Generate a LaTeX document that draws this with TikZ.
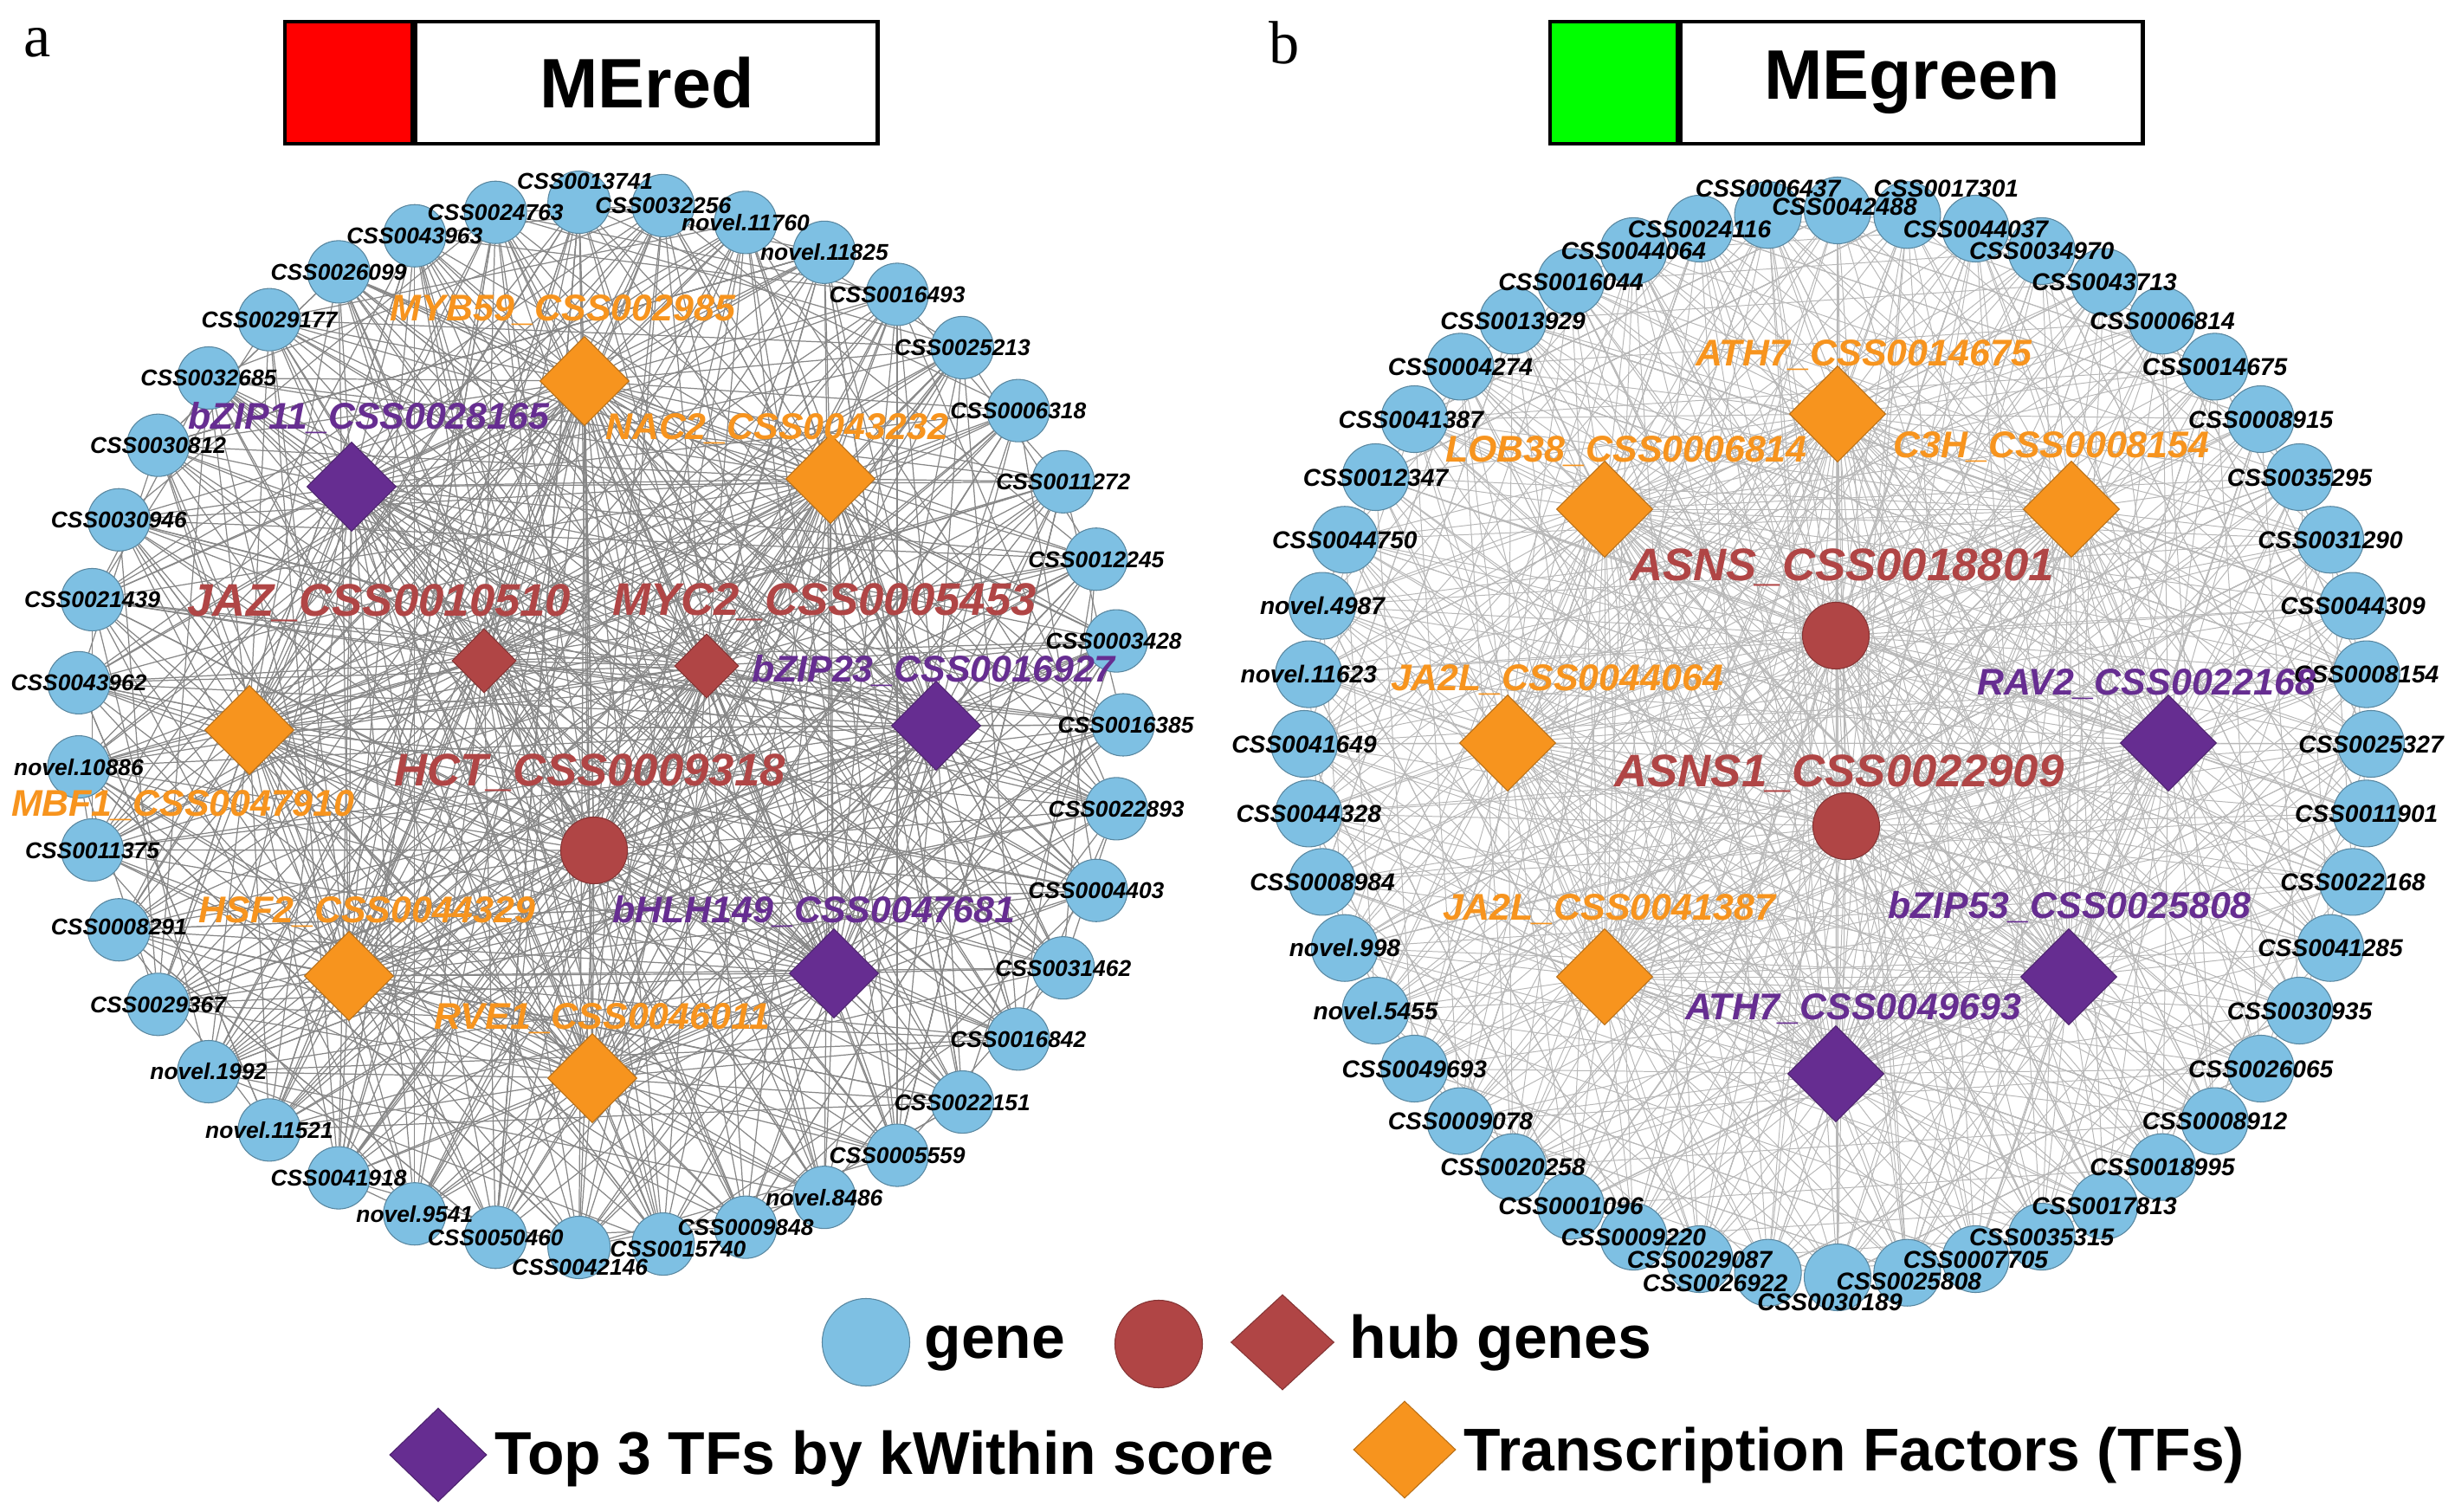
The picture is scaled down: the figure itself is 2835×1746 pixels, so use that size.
\documentclass[tikz,border=0pt]{standalone}
\usepackage{fontspec}
\setmainfont{Liberation Sans}
\newfontfamily\panelfont{Liberation Serif}
\usetikzlibrary{shapes.geometric,backgrounds}

\definecolor{geneblue}{RGB}{126,192,227}
\definecolor{hubred}{RGB}{176,69,69}
\definecolor{tfpurple}{RGB}{102,45,145}
\definecolor{tforange}{RGB}{247,148,30}

\tikzset{
  gene/.style={circle, fill=geneblue, draw=geneblue!70!black, line width=0.3pt, inner sep=0pt, minimum size=0.72cm},
  geneR/.style={gene, minimum size=0.77cm},
  genelab/.style={font=\bfseries\itshape\fontsize{7.5}{9}\selectfont, inner sep=0pt, text height=5.4pt, text depth=0pt},
  genelabR/.style={font=\bfseries\itshape\fontsize{8}{10}\selectfont, inner sep=0pt, text height=5.7pt, text depth=0pt},
  tf/.style={diamond, aspect=1, inner sep=0pt, minimum width=1.03cm, minimum height=1.03cm, line width=0.3pt},
  bigtf/.style={minimum width=1.11cm, minimum height=1.11cm},
  tforg/.style={tf, fill=tforange, draw=tforange!75!black},
  tfpur/.style={tf, fill=tfpurple, draw=tfpurple!75!black},
  hubdia/.style={tf, fill=hubred, draw=hubred!75!black, minimum width=0.74cm, minimum height=0.74cm},
  hubdot/.style={circle, fill=hubred, draw=hubred!75!black, line width=0.3pt, inner sep=0pt, minimum size=0.77cm},
  tflab/.style={font=\bfseries\itshape\fontsize{12.2}{14}\selectfont, inner sep=0pt, text height=8.7pt, text depth=0pt},
  hublab/.style={font=\bfseries\itshape\fontsize{15}{18}\selectfont, inner sep=0pt, text height=10.7pt, text depth=0pt, text=hubred},
  leftedge/.style={draw=black!47, line width=0.35pt},
  rightedge/.style={draw=black!28, line width=0.28pt},
  swatch/.style={draw=black, line width=1.2pt, minimum width=1.47cm, minimum height=1.41cm, inner sep=0pt},
  titlebox/.style={draw=black, line width=1.2pt, fill=white, minimum width=5.33cm, minimum height=1.41cm, inner sep=0pt, font=\bfseries\fontsize{23}{27}\selectfont},
  panel/.style={font=\panelfont\fontsize{20}{24}\selectfont, inner sep=0pt},
  legtext/.style={font=\bfseries\fontsize{19.8}{23}\selectfont, inner sep=0pt}
}

\begin{document}
\begin{tikzpicture}[x=0.01cm, y=-0.01cm]
  \useasboundingbox (0,0) rectangle (2835,1746);

  % titles
  \node[panel] (panela) at (43,49) {a};
  \node[panel] (panelb) at (1483,49) {b};
  \node[swatch, fill=red] (redswatch) at (402.5,95.5) {};
  \node[titlebox, anchor=west] (redtitle) at (redswatch.east) {MEred};
  \node[swatch, fill=green] (greenswatch) at (1863.5,95.5) {};
  \node[titlebox, anchor=west] (greentitle) at (greenswatch.east) {MEgreen};

  % MEred network
  \begin{scope}[every node/.style=gene]
    \foreach \k in {1,...,39}
      \node (L\k) at ({693+604*cos((11-\k)*360/39)}, {837-604*sin((11-\k)*360/39)}) {};
  \end{scope}
  \node[tfpur] (bzipA) at (406,562) {};
  \node[tforg] (mybA) at (675,440) {};
  \node[tforg] (nacA) at (959,553) {};
  \node[hubdia] (jaz) at (559,763) {};
  \node[hubdia] (myc) at (816,769) {};
  \node[tfpur] (bzipB) at (1081,838) {};
  \node[tforg] (mbf) at (288,843) {};
  \node[hubdot] (hct) at (686,982) {};
  \node[tfpur] (bhlh) at (963,1124) {};
  \node[tforg] (hsf) at (403,1127) {};
  \node[tforg] (rve) at (684,1245) {};

  % MEgreen network
  \begin{scope}[every node/.style=geneR]
    \foreach \m in {1,...,48}
      \node (R\m) at ({2122+616*cos(90-(\m-1)*7.5)}, {859-616*sin(90-(\m-1)*7.5)}) {};
  \end{scope}
  \node[tforg, bigtf] (athA) at (2122,478) {};
  \node[tforg, bigtf] (lob) at (1853,588) {};
  \node[tforg, bigtf] (cth) at (2392,588) {};
  \node[hubdot] (asns) at (2120,734) {};
  \node[hubdot] (asnsB) at (2132,954) {};
  \node[tforg, bigtf] (jaA) at (1741,858) {};
  \node[tfpur, bigtf] (rav) at (2504,858) {};
  \node[tforg, bigtf] (jaB) at (1853,1128) {};
  \node[tfpur, bigtf] (athB) at (2120,1240) {};
  \node[tfpur, bigtf] (bzipC) at (2389,1128) {};

  \begin{pgfonlayer}{background}
    \fill[white] (0,0) rectangle (2835,1746);
    \foreach \h in {bzipA,mybA,nacA,jaz,myc,bzipB,mbf,hct,bhlh,hsf,rve}
      \foreach \k in {1,...,39}
        \path (\h) edge[leftedge] (L\k);
    \foreach \k in {1,...,39}
      \foreach \s in {4,10,16,23} {
        \pgfmathtruncatemacro\j{mod(\k*\s+5*\s+3,39)+1}
        \ifnum\j=\k\else \path (L\k) edge[leftedge] (L\j); \fi
      }
    \foreach \a [count=\i] in {bzipA,mybA,nacA,jaz,myc,bzipB,mbf,hct,bhlh,hsf,rve}
      \foreach \b [count=\j] in {bzipA,mybA,nacA,jaz,myc,bzipB,mbf,hct,bhlh,hsf,rve} {
        \ifnum\j>\i \path (\a) edge[leftedge] (\b); \fi
      }
    \foreach \h in {athA,lob,cth,asns,asnsB,jaA,rav,jaB,athB,bzipC}
      \foreach \m in {1,...,48}
        \path (\h) edge[rightedge] (R\m);
    \foreach \m in {1,...,48}
      \foreach \s in {5,11,17,29,35} {
        \pgfmathtruncatemacro\n{mod(\m*\s+7*\s+1,48)+1}
        \ifnum\n=\m\else \path (R\m) edge[rightedge] (R\n); \fi
      }
    \foreach \a [count=\i] in {athA,lob,cth,asns,asnsB,jaA,rav,jaB,athB,bzipC}
      \foreach \b [count=\j] in {athA,lob,cth,asns,asnsB,jaA,rav,jaB,athB,bzipC} {
        \ifnum\j>\i \path (\a) edge[rightedge] (\b); \fi
      }
  \end{pgfonlayer}

  % gene labels
  \foreach \lab/\dx/\dy [count=\k] in {CSS0013741/7/25, CSS0032256/0/0, novel.11760/0/0,
      novel.11825/0/0, CSS0016493/0/0, CSS0025213/0/0, CSS0006318/0/0, CSS0011272/0/0,
      CSS0012245/0/0, CSS0003428/-3/0, CSS0016385/3/0, CSS0022893/0/0, CSS0004403/0/0,
      CSS0031462/0/0, CSS0016842/0/0, CSS0022151/0/0, CSS0005559/0/0, novel.8486/0/0,
      CSS0009848/0/0, CSS0015740/17/-5, CSS0042146/1/-23, CSS0050460/0/0, novel.9541/0/0,
      CSS0041918/0/0, novel.11521/0/0, novel.1992/0/0, CSS0029367/0/0, CSS0008291/0/4,
      CSS0011375/0/0, novel.10886/0/0, CSS0043962/0/0, CSS0021439/0/0, CSS0030946/0/0,
      CSS0030812/0/0, CSS0032685/0/0, CSS0029177/0/0, CSS0026099/0/0, CSS0043963/0/0,
      CSS0024763/0/0}
    \node[genelab] (LL\k) at ([xshift=\dx*0.01cm, yshift=\dy*0.01cm]L\k) {\lab};
  \foreach \lab/\dx/\dy [count=\m] in {CSS0042488/8/5, CSS0017301/45/31, CSS0044037/0/0,
      CSS0034970/0/0, CSS0043713/0/0, CSS0006814/0/0, CSS0014675/0/0, CSS0008915/0/0,
      CSS0035295/0/0, CSS0031290/0/0, CSS0044309/0/0, CSS0008154/0/0, CSS0025327/0/0,
      CSS0011901/0/0, CSS0022168/0/0, CSS0041285/0/0, CSS0030935/0/0, CSS0026065/0/0,
      CSS0008912/0/0, CSS0018995/0/0, CSS0017813/0/0, CSS0035315/0/0, CSS0007705/0/0,
      CSS0025808/2/-10, CSS0030189/-9/-28, CSS0026922/-61/-12, CSS0029087/0/0,
      CSS0009220/0/0, CSS0001096/0/0, CSS0020258/0/0, CSS0009078/0/0, CSS0049693/0/0,
      novel.5455/0/0, novel.998/0/0, CSS0008984/0/0, CSS0044328/0/0, CSS0041649/0/0,
      novel.11623/0/0, novel.4987/0/0, CSS0044750/0/0, CSS0012347/0/0, CSS0041387/-4/0,
      CSS0004274/0/0, CSS0013929/0/0, CSS0016044/0/0, CSS0044064/0/0, CSS0024116/0/0,
      CSS0006437/0/31}
    \node[genelabR] (RL\m) at ([xshift=\dx*0.01cm, yshift=\dy*0.01cm]R\m) {\lab};

  % hub and TF labels
  \node[tflab, text=tfpurple] (bzipAlab) at (426,480) {bZIP11\_CSS0028165};
  \node[tflab, text=tforange] (mybAlab) at (650,355) {MYB59\_CSS002985};
  \node[tflab, text=tforange] (nacAlab) at (897,492) {NAC2\_CSS0043232};
  \node[hublab] (jazlab) at (438,693) {JAZ\_CSS0010510};
  \node[hublab] (myclab) at (952,692) {MYC2\_CSS0005453};
  \node[tflab, text=tfpurple] (bzipBlab) at (1078,772) {bZIP23\_CSS0016927};
  \node[tflab, text=tforange] (mbflab) at (211,927) {MBF1\_CSS0047910};
  \node[hublab] (hctlab) at (681,889) {HCT\_CSS0009318};
  \node[tflab, text=tfpurple] (bhlhlab) at (940,1050) {bHLH149\_CSS0047681};
  \node[tflab, text=tforange] (hsflab) at (424,1050) {HSF2\_CSS0044329};
  \node[tflab, text=tforange] (rvelab) at (695,1173) {RVE1\_CSS0046011};

  \node[tflab, text=tforange] (athAlab) at (2152,407) {ATH7\_CSS0014675};
  \node[tflab, text=tforange] (loblab) at (1878,518) {LOB38\_CSS0006814};
  \node[tflab, text=tforange] (cthlab) at (2369,513) {C3H\_CSS0008154};
  \node[hublab] (asnslab) at (2127,652) {ASNS\_CSS0018801};
  \node[hublab] (asnsBlab) at (2124,890) {ASNS1\_CSS0022909};
  \node[tflab, text=tforange] (jaAlab) at (1798,782) {JA2L\_CSS0044064};
  \node[tflab, text=tfpurple] (ravlab) at (2479,787) {RAV2\_CSS0022168};
  \node[tflab, text=tforange] (jaBlab) at (1858,1047) {JA2L\_CSS0041387};
  \node[tflab, text=tfpurple] (athBlab) at (2140,1162) {ATH7\_CSS0049693};
  \node[tflab, text=tfpurple] (bzipClab) at (2390,1045) {bZIP53\_CSS0025808};

  % legend
  \node[gene, minimum size=1.01cm] (leggene) at (1000,1550) {};
  \node[legtext, anchor=base west] (leggenetxt) at (1067,1568) {gene};
  \node[hubdot, minimum size=1.01cm] (leghubdot) at (1338,1552) {};
  \node[hubdia, minimum width=1.19cm, minimum height=1.1cm] (leghubdia) at (1481,1550) {};
  \node[legtext, anchor=base west] (leghubtxt) at (1558,1568) {hub genes};
  \node[tfpur, minimum width=1.12cm, minimum height=1.08cm] (legtop) at (506,1680) {};
  \node[legtext, anchor=base west] (legtoptxt) at (571,1702) {Top 3 TFs by kWithin score};
  \node[tforg, minimum width=1.18cm, minimum height=1.12cm] (legtf) at (1622,1674) {};
  \node[legtext, anchor=base west] (legtftxt) at (1690,1698) {Transcription Factors (TFs)};
\end{tikzpicture}
\end{document}
